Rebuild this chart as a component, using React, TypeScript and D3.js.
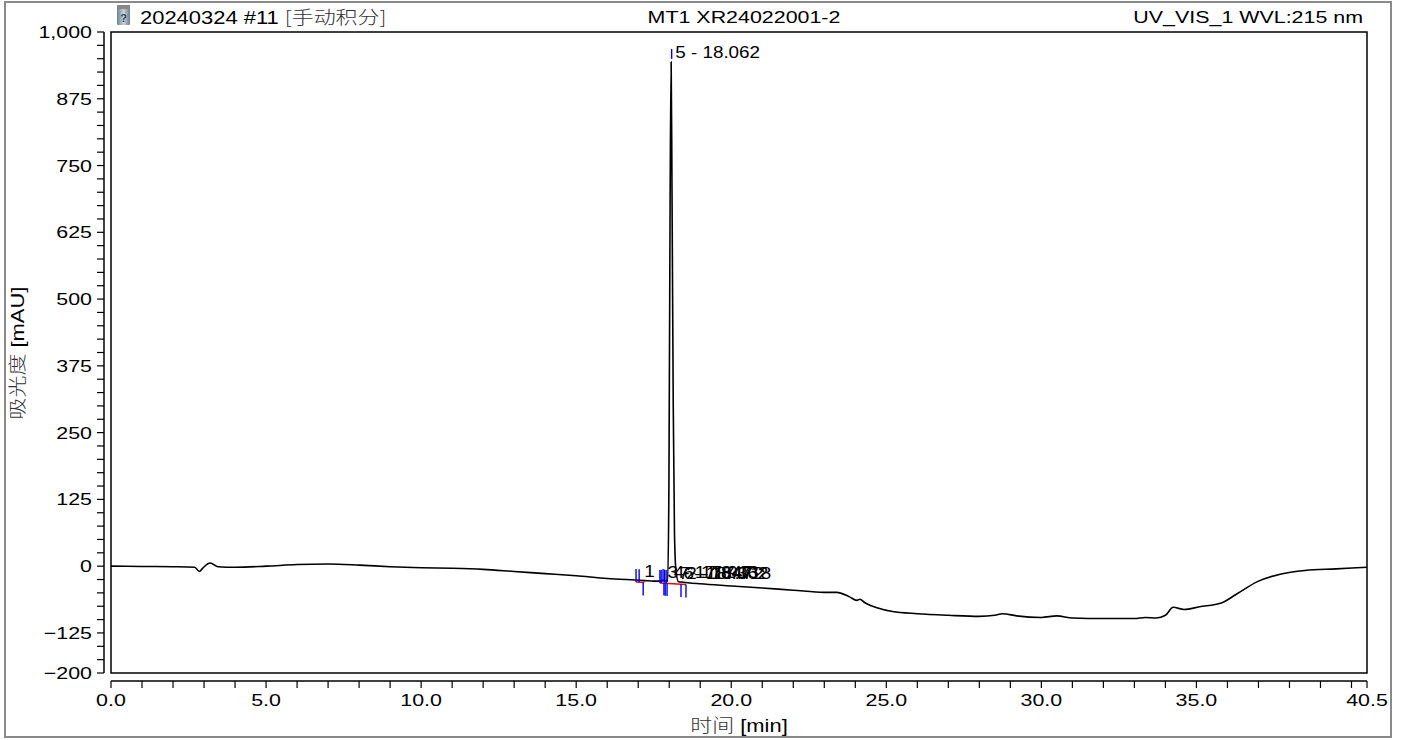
import React from "react";
import * as d3 from "d3";

// ---- data ----
const traceTime: number[] = [
  0, 1, 2, 2.7, 2.85, 2.95, 3.2, 3.45, 4, 5, 6, 7, 8, 9, 10, 11, 12, 13, 14, 15, 16, 16.9, 17.2, 17.5,
  17.75, 17.8, 17.85, 17.9, 17.95, 17.99, 18.03, 18.062, 18.09, 18.13, 18.17, 18.22, 18.3, 18.45, 18.6,
  19, 20, 21, 22, 23, 23.4, 23.8, 24.05, 24.15, 24.3, 24.7, 25.2, 26, 27, 28, 28.5, 28.75, 29.2, 30, 30.5,
  31, 32, 33, 33.35, 33.7, 34.0, 34.25, 34.6, 35.1, 35.8, 36.3, 37, 37.7, 38.5, 39.5, 40.5,
];
const traceValue: number[] = [
  0, -0.5, -1, -2, -10, -4, 6, -1, -2, 0, 3, 4, 2, -1, -3, -4, -6, -10, -14, -18, -23, -26, -27, -28,
  -28, -26, -27, -28, -28, 150, 700, 944, 700, 300, 60, -10, -29, -30, -31,
  -33, -37, -41, -45, -49, -49, -57, -64, -62, -68, -78, -85, -89, -92, -94, -92, -89, -93, -96, -93,
  -97, -98, -98, -96, -97, -92, -77, -81, -76, -69, -52, -28, -15, -8, -5, -2,
];

const yTicks: number[] = [1000, 875, 750, 625, 500, 375, 250, 125, 0, -125, -200];
const xTicks: number[] = [0, 5, 10, 15, 20, 25, 30, 35, 40.5];

// integration markers (time in min)
const markerUpTimes: number[] = [16.93, 17.03, 17.7, 17.74, 17.8, 17.85, 17.9];
const markerDownTimes: number[] = [17.16, 17.83, 17.87, 17.93, 18.38, 18.54];
const redBaselineSegments: [number, number][] = [
  [16.93, 17.2],
  [17.7, 18.54],
];
const smallPeakLabels: { t: number; text: string }[] = [
  { t: 17.1, text: "1" },
  { t: 17.85, text: "3 - 17.847" },
  { t: 18.05, text: "4 - 17.913" },
  { t: 18.2, text: "7 - 18.472" },
  { t: 18.36, text: "6 - 18.362" },
  { t: 18.45, text: "2 - 17.718" },
];
const mainPeak = { t: 18.062, v: 944, text: "5 - 18.062" };

const titleLeft = "20240324 #11 ";
const titleLeftCJK = "[手动积分]";
const titleCenter = "MT1 XR24022001-2";
const titleRight = "UV_VIS_1 WVL:215 nm";

const W = 1406;
const H = 740;
const plot = { left: 111, top: 32, right: 1367, bottom: 673 };
const FONT = "'Liberation Sans', Arial, sans-serif";
const CJK = "'Noto Sans CJK SC', sans-serif";
const SX = 1.26;

function T(props: {
  x: number;
  y: number;
  size: number;
  anchor?: string;
  s?: number;
  rotate?: number;
  dy?: string;
  children: React.ReactNode;
}) {
  const { x, y, size, anchor = "start", s = SX, rotate, dy, children } = props;
  return (
    <text
      transform={`translate(${x},${y})${rotate ? ` rotate(${rotate})` : ""} scale(${s},1)`}
      fontSize={size}
      textAnchor={anchor}
      dy={dy}
      fill="#000"
    >
      {children}
    </text>
  );
}

export default function App() {
  const x = d3.scaleLinear().domain([0, 40.5]).range([plot.left, plot.right]);
  const y = d3.scaleLinear().domain([-200, 1000]).range([plot.bottom, plot.top]);

  const pts: [number, number][] = traceTime.map((t, i) => [t, traceValue[i]]);
  const line = d3
    .line<[number, number]>()
    .x((d) => x(d[0]))
    .y((d) => y(d[1]))
    .curve(d3.curveMonotoneX);

  const basePts = pts.filter((p) => p[0] < 17.97 || p[0] > 18.28);
  const bt = basePts.map((p) => p[0]);
  const bisect = d3.bisector((d: number) => d).left;
  const baseAt = (t: number) => {
    const i = Math.max(1, Math.min(bt.length - 1, bisect(bt, t)));
    const a = basePts[i - 1];
    const b = basePts[i];
    const f = (t - a[0]) / (b[0] - a[0]);
    return a[1] + (b[1] - a[1]) * f;
  };

  const yMinor = d3.range(-200, 1000 + 1, 25);
  const xMinor = d3.range(0, 41, 1);
  const yAxisX = 104;
  const xAxisY = 681;

  return (
    <svg
      width={W}
      height={H}
      style={{ position: "absolute", left: 0, top: 0, background: "#fff" }}
      fontFamily={FONT}
    >
      <rect x={0} y={0} width={W} height={H} fill="#fff" />
      <rect x={5} y={2} width={1386} height={735} fill="none" stroke="#8a8a8a" strokeWidth={2} />

      {/* icon */}
      <g>
        <defs>
          <linearGradient id="ig" x1="0" x2="1">
            <stop offset="0" stopColor="#6f7f8f" />
            <stop offset="0.5" stopColor="#c8d0d8" />
            <stop offset="1" stopColor="#6f7f8f" />
          </linearGradient>
        </defs>
        <rect x={117} y={5} width={13} height={20} fill="url(#ig)" rx={1} />
        <rect x={117} y={5} width={13} height={4} fill="#888" />
        <text x={123.5} y={22} fontSize={11} textAnchor="middle" fill="#2a4a6a" fontWeight="bold">
          ?
        </text>
      </g>

      {/* titles */}
      <T x={140} y={24} size={18} s={1.22}>
        {titleLeft}
        <tspan fontFamily={CJK} fill="#333" fontWeight={300}>
          {titleLeftCJK}
        </tspan>
      </T>
      <T x={744} y={23} size={17} anchor="middle">
        {titleCenter}
      </T>
      <T x={1363} y={23} size={17} anchor="end">
        {titleRight}
      </T>

      {/* plot frame */}
      <rect
        x={plot.left}
        y={plot.top}
        width={plot.right - plot.left}
        height={plot.bottom - plot.top}
        fill="none"
        stroke="#000"
        strokeWidth={1.5}
      />

      {/* y axis */}
      <line x1={yAxisX} x2={yAxisX} y1={y(1000)} y2={y(-200)} stroke="#000" strokeWidth={1.5} />
      {yMinor.map((v) => (
        <line key={"ym" + v} x1={yAxisX - 7} x2={yAxisX} y1={y(v)} y2={y(v)} stroke="#000" strokeWidth={1.2} />
      ))}
      {yTicks.map((v) => (
        <T key={"yt" + v} x={92} y={y(v)} dy="0.35em" size={17} anchor="end">
          {d3.format(",")(v)}
        </T>
      ))}
      <T x={24} y={353} size={18} rotate={-90} anchor="middle" s={1.22}>
        <tspan fontFamily={CJK} fill="#333" fontWeight={300}>
          吸光度
        </tspan>{" "}
        [mAU]
      </T>

      {/* x axis */}
      <line x1={x(0)} x2={x(40.5)} y1={xAxisY} y2={xAxisY} stroke="#000" strokeWidth={1.5} />
      {xMinor.map((t) => (
        <line key={"xm" + t} x1={x(t)} x2={x(t)} y1={xAxisY} y2={xAxisY + 7} stroke="#000" strokeWidth={1.2} />
      ))}
      <line x1={x(40.5)} x2={x(40.5)} y1={xAxisY} y2={xAxisY + 7} stroke="#000" strokeWidth={1.2} />
      {xTicks.map((t) => (
        <T key={"xt" + t} x={x(t)} y={706} size={17} anchor="middle">
          {t.toFixed(1)}
        </T>
      ))}
      <T x={739} y={732} size={18} anchor="middle" s={1.22}>
        <tspan fontFamily={CJK} fill="#333" fontWeight={300}>
          时间
        </tspan>{" "}
        [min]
      </T>

      {/* red baselines */}
      {redBaselineSegments.map(([a, b], i) => (
        <line
          key={"rb" + i}
          x1={x(a)}
          x2={x(b)}
          y1={y(baseAt(a)) + 2}
          y2={y(baseAt(b)) + 2}
          stroke="#ff0000"
          strokeWidth={1.5}
        />
      ))}

      {/* trace */}
      <path d={line(pts) || ""} fill="none" stroke="#000" strokeWidth={1.6} strokeLinejoin="round" />

      {/* markers */}
      {markerUpTimes.map((t, i) => (
        <line
          key={"mu" + i}
          x1={x(t)}
          x2={x(t)}
          y1={y(baseAt(t)) + 2}
          y2={y(baseAt(t)) - 11}
          stroke="#0000ff"
          strokeWidth={1.4}
        />
      ))}
      {markerDownTimes.map((t, i) => (
        <line
          key={"md" + i}
          x1={x(t)}
          x2={x(t)}
          y1={y(baseAt(t)) + 2}
          y2={y(baseAt(t)) + 15}
          stroke="#0000ff"
          strokeWidth={1.4}
        />
      ))}
      <line
        x1={x(mainPeak.t) + 0.5}
        x2={x(mainPeak.t) + 0.5}
        y1={y(mainPeak.v) - 3}
        y2={y(mainPeak.v) - 13}
        stroke="#0000ff"
        strokeWidth={1.4}
      />

      {/* labels */}
      {smallPeakLabels.map((l, i) => (
        <T key={"pl" + i} x={x(l.t) + 3} y={y(baseAt(l.t)) - 3} size={16} s={1.18}>
          {l.text}
        </T>
      ))}
      <T x={x(mainPeak.t) + 4} y={y(mainPeak.v) - 4} size={16} s={1.18}>
        {mainPeak.text}
      </T>
    </svg>
  );
}
